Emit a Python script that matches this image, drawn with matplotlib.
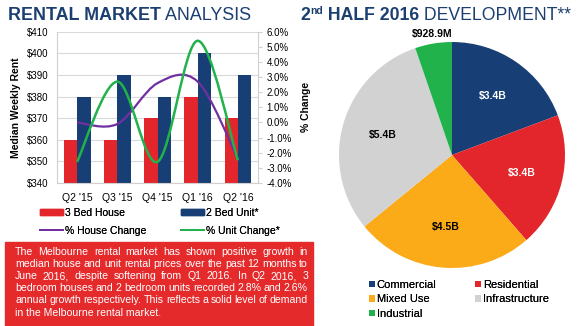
import numpy as np
import matplotlib.pyplot as plt
from matplotlib.path import Path
from matplotlib.patches import PathPatch, Rectangle, Patch
from matplotlib.lines import Line2D

plt.rcParams['font.family'] = ['Liberation Sans', 'DejaVu Sans']

# Rental market data
quarters = ["Q2 '15", "Q3 '15", "Q4 '15", "Q1 '16", "Q2 '16"]
house_rent = [360, 360, 370, 380, 370]
unit_rent = [380, 390, 380, 400, 390]
house_change = [0.0, -0.1, 2.6, 2.7, -2.4]
unit_change = [-2.6, 2.7, -2.6, 5.4, -2.5]

# Development pipeline, $B
sectors = ["Commercial", "Residential", "Mixed Use", "Infrastructure", "Industrial"]
sector_values = [3.4, 3.4, 4.5, 5.4, 0.9289]
sector_labels = ["$3.4B", "$3.4B", "$4.5B", "$5.4B", "$928.9M"]

NAVY = "#173f75"
RED = "#e3262b"
PURPLE = "#7030a0"
GREEN = "#22b24c"
ORANGE = "#fbab18"
GREY = "#d2d2d2"
TITLE = "#1b3f70"

W, H = 580, 326
fig = plt.figure(figsize=(W / 100, H / 100), dpi=100)


def fx(px):
    return px / W


def fy(py):
    return 1 - py / H


def smooth_path(xs, ys):
    # Excel style smoothed line: cubic Bezier segments through each point
    p = np.column_stack([xs, ys]).astype(float)
    pts = np.vstack([p[0], p, p[-1]])
    verts = [p[0]]
    codes = [Path.MOVETO]
    for i in range(1, len(pts) - 2):
        c1 = pts[i] + (pts[i + 1] - pts[i - 1]) / 6
        c2 = pts[i + 1] - (pts[i + 2] - pts[i]) / 6
        verts += [c1, c2, pts[i + 1]]
        codes += [Path.CURVE4] * 3
    return Path(verts, codes)


def add_legend(handles, labels, px, py, **kw):
    leg = fig.legend(handles, labels, loc="upper left", bbox_to_anchor=(fx(px), fy(py)),
                     frameon=False, borderaxespad=0, borderpad=0, **kw)
    fig.add_artist(leg)


# ---- left: bar + line chart ----
ax = fig.add_axes([fx(57), fy(183), fx(258) - fx(57), fy(31.7) - fy(183)])
x = np.arange(len(quarters))
bw = 1 / 3
ax.bar(x - bw / 2, house_rent, bw, color=RED, zorder=2)
ax.bar(x + bw / 2, unit_rent, bw, color=NAVY, zorder=2)
ax.set_ylim(340, 410)
ax.set_xlim(-0.5, len(quarters) - 0.5)
ax.set_yticks(range(340, 411, 10))
ax.set_yticklabels([f"${v}" for v in range(340, 411, 10)])
ax.set_xticks(x)
ax.set_xticklabels(quarters)
ax.grid(axis="y", color="#d9d9d9", lw=0.8, zorder=0)
ax.tick_params(axis="y", length=0, labelsize=7, pad=6)
ax.tick_params(axis="x", length=0, labelsize=7.5, pad=7)
for s in ["top", "right"]:
    ax.spines[s].set_visible(False)
for s in ["left", "bottom"]:
    ax.spines[s].set_color("#d0d0d0")
ax.set_ylabel("Median Weekly Rent", fontsize=7.5, fontweight="bold", labelpad=4)

ax2 = ax.twinx()
ax2.set_ylim(-4, 6)
ax2.set_yticks(range(-4, 7))
ax2.set_yticklabels([f"{v:.1f}%" for v in range(-4, 7)])
ax2.tick_params(axis="y", length=3, color="#d0d0d0", labelsize=7, pad=3)
for s in ["top", "left", "bottom"]:
    ax2.spines[s].set_visible(False)
ax2.spines["right"].set_color("#d0d0d0")
ax2.add_patch(PathPatch(smooth_path(x, house_change), fill=False, ec=PURPLE, lw=1.6, zorder=3))
ax2.add_patch(PathPatch(smooth_path(x, unit_change), fill=False, ec=GREEN, lw=1.8, zorder=4))
ax2.set_ylabel("% Change", fontsize=7.5, fontweight="bold", labelpad=7)

leg_kw = dict(fontsize=7.5, handlelength=2.2, handleheight=0.55, labelspacing=0.75,
              handletextpad=0.2)
add_legend([Patch(color=RED), Line2D([], [], color=PURPLE, lw=1.4)],
           ["3 Bed House", "% House Change"], 40, 208, **leg_kw)
add_legend([Patch(color=NAVY), Line2D([], [], color=GREEN, lw=1.4)],
           ["2 Bed Unit*", "% Unit Change*"], 181, 208, **leg_kw)

# ---- titles ----
fig.canvas.draw()
renderer = fig.canvas.get_renderer()


def run_text(px, py, parts):
    # draws consecutive text pieces on one baseline
    for text, weight, size, dy in parts:
        t = fig.text(fx(px), fy(py + dy), text, fontsize=size, fontweight=weight,
                     color=TITLE, va="baseline", ha="left")
        px += t.get_window_extent(renderer).width


run_text(8, 20, [("RENTAL MARKET", "bold", 12.9, 0), (" ANALYSIS", "normal", 12.9, 0)])
run_text(300, 20, [("2", "bold", 12.7, 0), ("nd", "bold", 7.5, -6),
                   (" HALF 2016", "bold", 12.7, 0), (" DEVELOPMENT**", "normal", 12.7, 0)])

# ---- commentary box ----
fig.patches.append(Rectangle((fx(5), 0), fx(313) - fx(5), fy(242), color="#e52a2c",
                             transform=fig.transFigure, zorder=0))
lines = [
    "The Melbourne rental market has shown positive growth in",
    "median house and unit rental prices over the  past 12 months to",
    "June 2016, despite softening from Q1 2016. In Q2 2016, 3",
    "bedroom houses and 2 bedroom units recorded 2.8% and 2.6%",
    "annual growth respectively. This reflects a solid level of demand",
    "in the Melbourne rental market.",
]
left, right = 15, 308
for i, line in enumerate(lines):
    y = 252 + i * 12.1
    words = line.split()
    if i == len(lines) - 1:
        fig.text(fx(left), fy(y), line, color="white", fontsize=7.6, va="center")
        continue
    # justified line: spread the words evenly between the margins
    texts = [fig.text(0, fy(y), w, color="white", fontsize=7.6, va="center") for w in words]
    widths = [t.get_window_extent(renderer).width for t in texts]
    gap = (right - left - sum(widths)) / (len(words) - 1)
    pos = left
    for t, w in zip(texts, widths):
        t.set_x(fx(pos))
        pos += w + gap

# ---- right: pie chart ----
R = 113
axp = fig.add_axes([fx(452 - R), fy(155 + R), fx(2 * R), fy(155 - R) - fy(155 + R)])
colors = [NAVY, RED, ORANGE, GREY, GREEN]
wedges, _ = axp.pie(sector_values, colors=colors, startangle=90, counterclock=False,
                    radius=1, wedgeprops=dict(linewidth=0))
axp.set_xlim(-1, 1)
axp.set_ylim(-1, 1)
axp.set_aspect("auto")
label_colors = ["white", "white", "black", "black", "black"]
for w, lab, c in zip(wedges, sector_labels, label_colors):
    ang = np.deg2rad((w.theta1 + w.theta2) / 2)
    r = 1.09 if lab.endswith("M") else 0.64
    axp.text(r * np.cos(ang), r * np.sin(ang), lab, ha="center", va="center",
             fontsize=7.5, fontweight="bold", color=c)

pie_kw = dict(fontsize=8, handlelength=0.55, handleheight=0.55, handletextpad=0.15,
              labelspacing=0.4)
add_legend([wedges[0], wedges[2], wedges[4]], [sectors[0], sectors[2], sectors[4]],
           369, 280, **pie_kw)
add_legend([wedges[1], wedges[3]], [sectors[1], sectors[3]], 475, 280, **pie_kw)

fig.savefig("out.png", dpi=100)
